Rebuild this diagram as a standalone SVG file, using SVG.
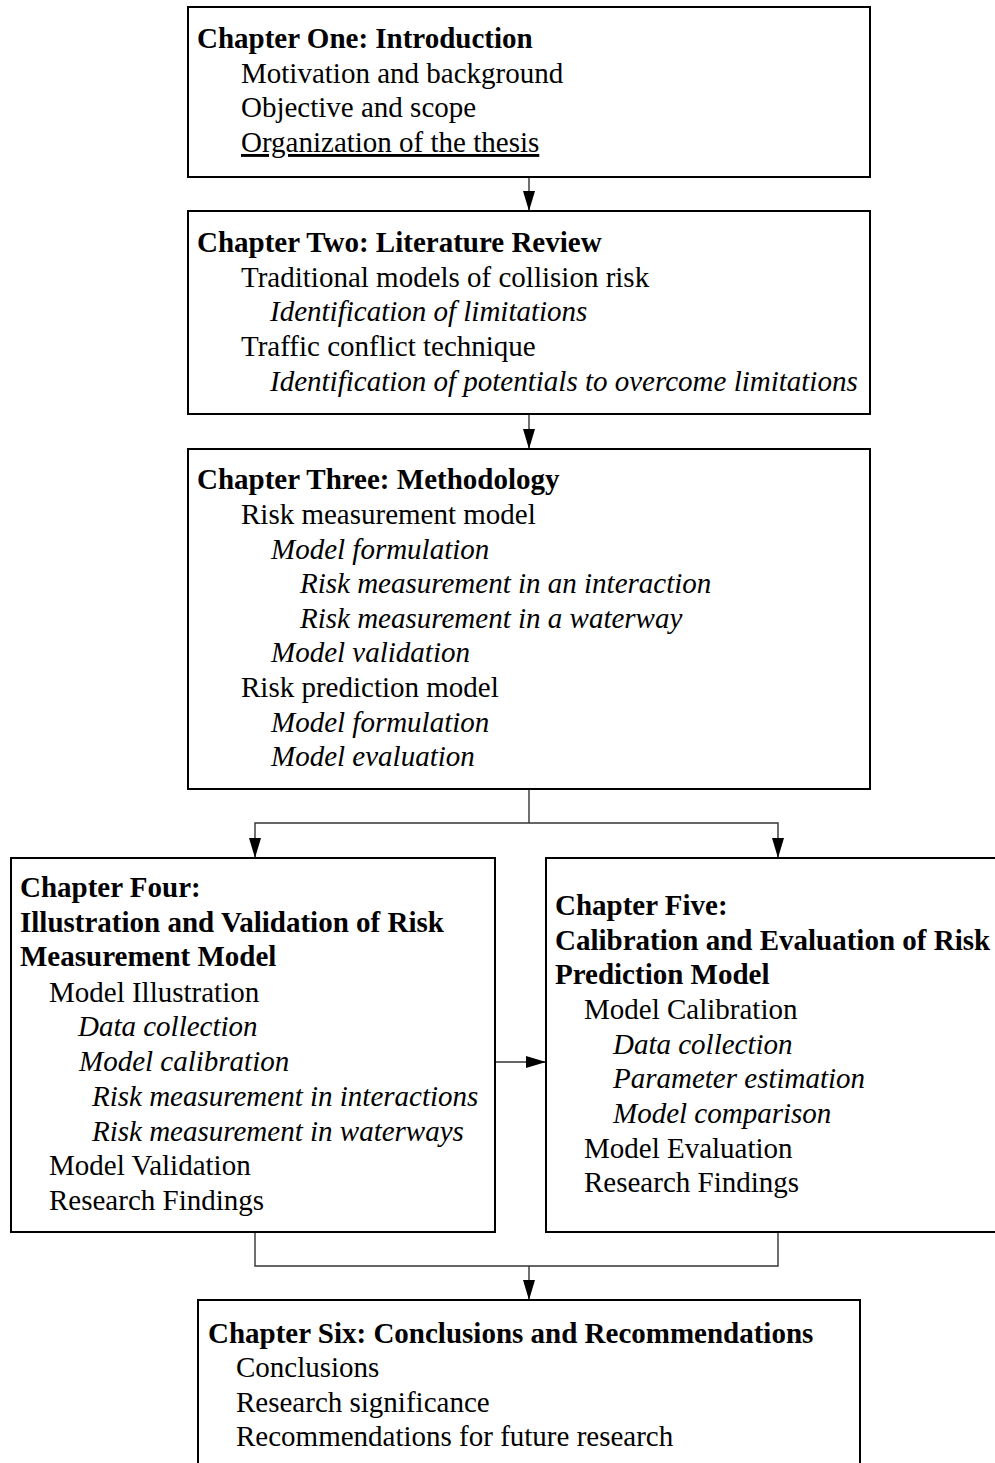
<svg xmlns="http://www.w3.org/2000/svg" width="995" height="1463" viewBox="0 0 995 1463">
  <style>
    .box { fill: #ffffff; stroke: #000000; stroke-width: 2; }
    .t { font-family: "Liberation Serif", "Times New Roman", serif; font-size: 29px; fill: #000000; }
    .b { font-weight: bold; }
    .i { font-style: italic; }
    .u { text-decoration: underline; }
    .conn { fill: none; stroke: #333333; stroke-width: 1.4; }
  </style>
  <defs>
    <marker id="arrowDown" viewBox="0 0 12 20" refX="6" refY="20" markerWidth="12" markerHeight="20" markerUnits="userSpaceOnUse">
      <path d="M0,0 L12,0 L6,20 Z" fill="#000000"/>
    </marker>
    <marker id="arrowRight" viewBox="0 0 20 12" refX="20" refY="6" markerWidth="20" markerHeight="12" markerUnits="userSpaceOnUse">
      <path d="M0,0 L20,6 L0,12 Z" fill="#000000"/>
    </marker>
  </defs>

  <rect width="995" height="1463" fill="#ffffff"/>

  <!-- connectors -->
  <g id="connectors">
    <path class="conn" d="M529,177 V211" marker-end="url(#arrowDown)"/>
    <path class="conn" d="M529,414 V449" marker-end="url(#arrowDown)"/>
    <path class="conn" d="M529,789 V823"/>
    <path class="conn" d="M529,823 H255 V858" marker-end="url(#arrowDown)"/>
    <path class="conn" d="M529,823 H778 V858" marker-end="url(#arrowDown)"/>
    <path class="conn" d="M495,1062 H546" marker-end="url(#arrowRight)"/>
    <path class="conn" d="M255,1232 V1266 H778 V1232"/>
    <path class="conn" d="M529,1266 V1300" marker-end="url(#arrowDown)"/>
  </g>

  <!-- Chapter One -->
  <g id="ch1">
    <rect class="box" x="188" y="7" width="682" height="170"/>
    <text class="t b" x="197" y="48">Chapter One: Introduction</text>
    <text class="t" x="241" y="83">Motivation and background</text>
    <text class="t" x="241" y="117">Objective and scope</text>
    <text class="t u" x="241" y="152">Organization of the thesis</text>
  </g>

  <!-- Chapter Two -->
  <g id="ch2">
    <rect class="box" x="188" y="211" width="682" height="203"/>
    <text class="t b" x="197" y="252">Chapter Two: Literature Review</text>
    <text class="t" x="241" y="287">Traditional models of collision risk</text>
    <text class="t i" x="270" y="321">Identification of limitations</text>
    <text class="t" x="241" y="356">Traffic conflict technique</text>
    <text class="t i" x="270" y="391">Identification of potentials to overcome limitations</text>
  </g>

  <!-- Chapter Three -->
  <g id="ch3">
    <rect class="box" x="188" y="449" width="682" height="340"/>
    <text class="t b" x="197" y="489">Chapter Three: Methodology</text>
    <text class="t" x="241" y="524">Risk measurement model</text>
    <text class="t i" x="271" y="559">Model formulation</text>
    <text class="t i" x="300" y="593">Risk measurement in an interaction</text>
    <text class="t i" x="300" y="628">Risk measurement in a waterway</text>
    <text class="t i" x="271" y="662">Model validation</text>
    <text class="t" x="241" y="697">Risk prediction model</text>
    <text class="t i" x="271" y="732">Model formulation</text>
    <text class="t i" x="271" y="766">Model evaluation</text>
  </g>

  <!-- Chapter Four -->
  <g id="ch4">
    <rect class="box" x="11" y="858" width="484" height="374"/>
    <text class="t b" x="20" y="897">Chapter Four:</text>
    <text class="t b" x="20" y="932">Illustration and Validation of Risk</text>
    <text class="t b" x="20" y="966">Measurement Model</text>
    <text class="t" x="49" y="1002">Model Illustration</text>
    <text class="t i" x="78" y="1036">Data collection</text>
    <text class="t i" x="79" y="1071">Model calibration</text>
    <text class="t i" x="92" y="1106">Risk measurement in interactions</text>
    <text class="t i" x="92" y="1141">Risk measurement in waterways</text>
    <text class="t" x="49" y="1175">Model Validation</text>
    <text class="t" x="49" y="1210">Research Findings</text>
  </g>

  <!-- Chapter Five -->
  <g id="ch5">
    <rect class="box" x="546" y="858" width="470" height="374"/>
    <text class="t b" x="555" y="915">Chapter Five:</text>
    <text class="t b" x="555" y="950">Calibration and Evaluation of Risk</text>
    <text class="t b" x="555" y="984">Prediction Model</text>
    <text class="t" x="584" y="1019">Model Calibration</text>
    <text class="t i" x="613" y="1054">Data collection</text>
    <text class="t i" x="613" y="1088">Parameter estimation</text>
    <text class="t i" x="613" y="1123">Model comparison</text>
    <text class="t" x="584" y="1158">Model Evaluation</text>
    <text class="t" x="584" y="1192">Research Findings</text>
  </g>

  <!-- Chapter Six -->
  <g id="ch6">
    <rect class="box" x="198" y="1300" width="662" height="180"/>
    <text class="t b" x="208" y="1343">Chapter Six: Conclusions and Recommendations</text>
    <text class="t" x="236" y="1377">Conclusions</text>
    <text class="t" x="236" y="1412">Research significance</text>
    <text class="t" x="236" y="1446">Recommendations for future research</text>
  </g>
</svg>
